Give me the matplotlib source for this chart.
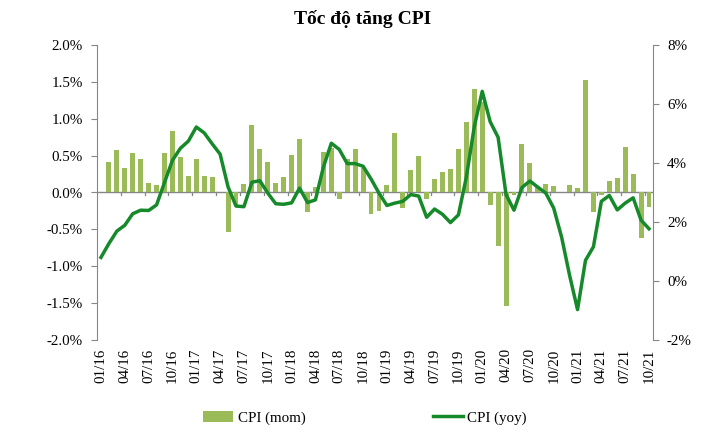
import matplotlib
matplotlib.use("Agg")
import matplotlib.pyplot as plt
import numpy as np
from matplotlib.ticker import FuncFormatter
from matplotlib.patches import Patch
from matplotlib.lines import Line2D

plt.rcParams['font.family'] = ['Liberation Serif', 'DejaVu Serif']

months = [f"{m:02d}/{y:02d}" for y in range(16, 22) for m in range(1, 13)][:70]

mom = [0.00, 0.42, 0.57, 0.33, 0.54, 0.46, 0.13, 0.10, 0.54, 0.83, 0.48, 0.23,
       0.46, 0.23, 0.21, 0.00, -0.53, -0.17, 0.11, 0.92, 0.59, 0.41, 0.13, 0.21,
       0.51, 0.73, -0.27, 0.08, 0.55, 0.61, -0.09, 0.45, 0.59, 0.33, -0.29, -0.25,
       0.10, 0.80, -0.21, 0.31, 0.49, -0.09, 0.18, 0.28, 0.32, 0.59, 0.96, 1.40,
       1.23, -0.17, -0.72, -1.54, -0.03, 0.66, 0.40, 0.07, 0.12, 0.09, 0.01, 0.10,
       0.06, 1.52, -0.27, -0.04, 0.16, 0.19, 0.62, 0.25, -0.62, -0.20]

yoy = [0.80, 1.27, 1.69, 1.89, 2.28, 2.40, 2.39, 2.58, 3.34, 4.09, 4.50, 4.74,
       5.22, 5.02, 4.65, 4.30, 3.19, 2.54, 2.52, 3.35, 3.40, 2.98, 2.62, 2.60,
       2.65, 3.15, 2.66, 2.75, 3.86, 4.67, 4.46, 3.98, 3.98, 3.89, 3.46, 2.98,
       2.56, 2.64, 2.70, 2.93, 2.88, 2.16, 2.44, 2.26, 1.98, 2.24, 3.52, 5.23,
       6.43, 5.40, 4.87, 2.93, 2.40, 3.17, 3.39, 3.18, 2.98, 2.47, 1.48, 0.19,
       -0.97, 0.70, 1.16, 2.70, 2.90, 2.41, 2.64, 2.82, 2.06, 1.77]

bar_color = '#9bbb59'
line_color = '#168a2a'
axis_color = '#868686'

fig = plt.figure(figsize=(7.26, 4.40), dpi=100)
ax = fig.add_axes([97/726, 1 - 340/440, (653-97)/726, (340-45)/440])
ax2 = ax.twinx()

x = np.arange(len(months))
ax.bar(x, mom, width=0.62, color=bar_color, zorder=2)
ax2.plot(x, yoy, color=line_color, lw=2.5, solid_joinstyle='round', zorder=3)

ax.set_xlim(-0.5, len(months) - 0.5)
ax.set_ylim(-2.0, 2.0)
ax2.set_ylim(-2, 8)
ax.set_yticks(np.arange(-2.0, 2.01, 0.5))
ax2.set_yticks(np.arange(-2, 8.1, 2))
ax.yaxis.set_major_formatter(FuncFormatter(lambda v, p: f"{v:.1f}%"))
ax2.yaxis.set_major_formatter(FuncFormatter(lambda v, p: f"{v:.0f}%"))

# zero axis line with boundary ticks
ax.axhline(0, color=axis_color, lw=1.0, zorder=1)
for b in np.arange(2.5, len(months), 3):
    ax.plot([b, b], [0, -0.035], color=axis_color, lw=0.9, zorder=1, clip_on=False)

# x labels at bottom
ax.set_xticks(x[::3])
ax.set_xticklabels(months[::3], rotation=90, fontsize=10.8)
ax.tick_params(axis='x', length=0, pad=6)

for a in (ax, ax2):
    for s in ('top', 'bottom'):
        a.spines[s].set_visible(False)
ax.spines['right'].set_visible(False)
ax2.spines['left'].set_visible(False)
ax.spines['left'].set_color(axis_color)
ax2.spines['right'].set_color(axis_color)
ax.tick_params(axis='y', colors=axis_color, labelcolor='black', labelsize=10.8, length=4, pad=6)
ax2.tick_params(axis='y', colors=axis_color, labelcolor='black', labelsize=10.8, length=4, pad=6)

fig.text(0.5, 1 - 19/440, "Tốc độ tăng CPI", ha='center', va='center',
         fontsize=14, fontweight='bold')

handles = [Patch(facecolor=bar_color, edgecolor='none'),
           Line2D([0], [0], color=line_color, lw=2.5)]
fig.legend(handles, ["CPI (mom)", "CPI (yoy)"], loc='center',
           bbox_to_anchor=(365/726, 1 - 418/440), ncol=2, frameon=False,
           fontsize=10.8, handlelength=2.0, handletextpad=0.3, columnspacing=8.5)

fig.savefig("out.png", dpi=100)
